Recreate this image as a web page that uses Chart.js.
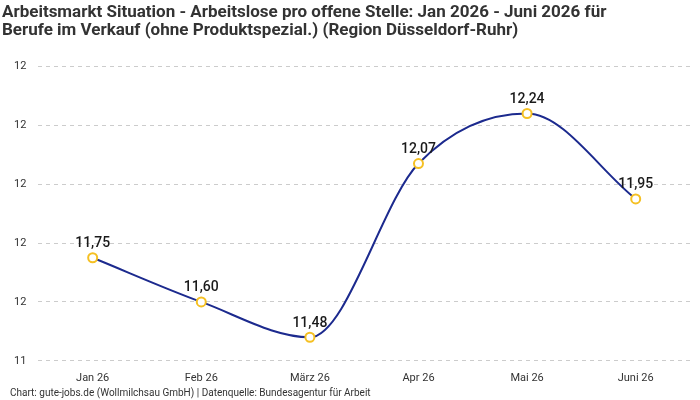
<!DOCTYPE html>
<html>
<head>
<meta charset="utf-8">
<script src="https://cdn.jsdelivr.net/npm/chart.js@4/dist/chart.umd.min.js"></script>
<style>
  html, body { margin: 0; padding: 0; background: #fff; }
  #wrap { width: 700px; height: 400px; }
</style>
</head>
<body>
<div id="wrap"><canvas id="arbeitChart"></canvas></div>
<script>
// Chart data
const months = ["Jan 26", "Feb 26", "März 26", "Apr 26", "Mai 26", "Juni 26"];
const ratio = [11.75, 11.60, 11.48, 12.07, 12.24, 11.95];
const titleLines = [
    "Arbeitsmarkt Situation - Arbeitslose pro offene Stelle: Jan 2026 - Juni 2026 für",
    "Berufe im Verkauf (ohne Produktspezial.) (Region Düsseldorf-Ruhr)"
];
const sourceNote = "Chart: gute-jobs.de (Wollmilchsau GmbH) | Datenquelle: Bundesagentur für Arbeit";

const fontFamily = "Roboto, 'Noto Sans', sans-serif";

// value labels above the points
const valueLabels = {
    id: "valueLabels",
    afterDatasetsDraw(chart) {
        const ctx = chart.ctx;
        const meta = chart.getDatasetMeta(0);
        ctx.save();
        ctx.font = "500 14px " + fontFamily;
        ctx.fillStyle = "#1a1a1a";
        ctx.textAlign = "center";
        ctx.textBaseline = "bottom";
        meta.data.forEach((pt, i) => {
            ctx.fillText(ratio[i].toFixed(2).replace(".", ","), pt.x, pt.y - 7);
        });
        ctx.restore();
    }
};

// footer note
const footerNote = {
    id: "footerNote",
    afterDraw(chart) {
        const ctx = chart.ctx;
        ctx.save();
        ctx.font = "10px " + fontFamily;
        ctx.fillStyle = "#333";
        ctx.textAlign = "left";
        ctx.textBaseline = "middle";
        ctx.fillText(sourceNote, 10, 393);
        ctx.restore();
    }
};

new Chart(document.getElementById("arbeitChart").getContext("2d"), {
    type: "line",
    data: {
        labels: months,
        datasets: [{
            data: ratio,
            borderColor: "#1c2a8e",
            borderWidth: 2,
            cubicInterpolationMode: "monotone",
            pointRadius: 4.5,
            pointBorderWidth: 2,
            pointBorderColor: "#f5c023",
            pointBackgroundColor: "#ffffff",
            fill: false
        }]
    },
    options: {
        responsive: true,
        maintainAspectRatio: false,
        animation: false,
        layout: { padding: { left: 2, right: 10, bottom: 12 } },
        scales: {
            x: {
                offset: true,
                grid: { display: false },
                border: { display: false },
                ticks: { color: "#333", font: { family: fontFamily, size: 11 }, padding: 3 }
            },
            y: {
                min: 11.4,
                max: 12.4,
                grid: { color: "#cccccc", tickLength: 0 },
                border: { display: false, dash: [4, 4] },
                ticks: {
                    stepSize: 0.2,
                    color: "#333",
                    padding: 12,
                    font: { family: fontFamily, size: 11 },
                    callback: v => v.toFixed(0)
                }
            }
        },
        plugins: {
            legend: { display: false },
            tooltip: { enabled: false },
            title: {
                display: true,
                text: titleLines,
                align: "start",
                color: "#333",
                font: { family: fontFamily, size: 17, weight: "bold", lineHeight: 1.1 },
                padding: { top: 3, bottom: 26 }
            }
        }
    },
    plugins: [valueLabels, footerNote]
});
</script>
</body>
</html>
